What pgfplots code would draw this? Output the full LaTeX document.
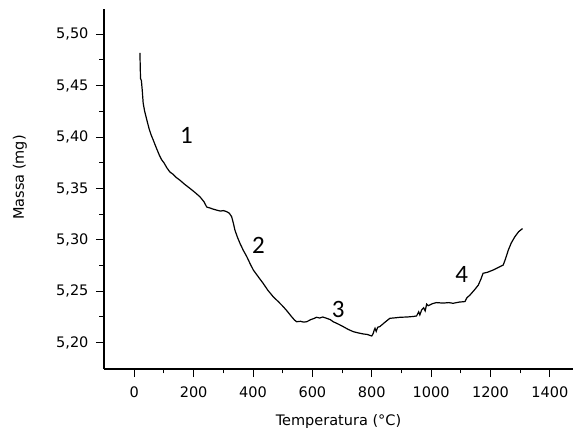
\documentclass[border=0pt]{standalone}
\usepackage{pgfplots}
\pgfplotsset{compat=1.18}
\usepackage{fontspec}
\setmainfont{DejaVu Sans}
\newfontfamily\numfont{Carlito}
\pgfplotstableread{
x y
19 5.482
20 5.470
21 5.457
24 5.455
27 5.445
30 5.433
35 5.425
42 5.417
50 5.408
57 5.402
64 5.397
75 5.389
85 5.382
92 5.378
100 5.375
110 5.370
120 5.366
130 5.364
140 5.361
154 5.358
170 5.354
188 5.350
205 5.346
221 5.342
235 5.337
244 5.332
255 5.331
265 5.330
277 5.329
290 5.328
300 5.3285
311 5.3275
320 5.326
328 5.3226
334 5.316
339 5.3096
347 5.303
356 5.2967
367 5.290
379 5.2837
390 5.277
401 5.2707
418 5.264
434 5.2578
450 5.251
468 5.2447
485 5.240
502 5.235
517 5.230
530 5.2253
540 5.222
547 5.2204
560 5.2208
570 5.2200
581 5.2204
595 5.2225
605 5.2235
614 5.2247
625 5.2240
635 5.2250
648 5.2237
660 5.2225
670 5.2204
688 5.218
704 5.2156
720 5.213
738 5.2107
755 5.2095
771 5.2085
785 5.2080
800 5.2065
805 5.2090
808 5.2120
811 5.2140
815 5.2110
820 5.2150
827 5.2156
845 5.220
861 5.2237
880 5.2242
895 5.2247
920 5.225
940 5.2255
951 5.226
958 5.230
962 5.227
968 5.2318
975 5.234
980 5.231
985 5.2375
990 5.236
996 5.2367
1005 5.238
1018 5.239
1040 5.2385
1060 5.239
1074 5.2383
1095 5.2395
1114 5.240
1120 5.2435
1131 5.2464
1145 5.251
1159 5.256
1168 5.262
1175 5.2675
1190 5.2685
1209 5.2707
1225 5.273
1243 5.2756
1250 5.281
1260 5.290
1270 5.297
1282 5.303
1295 5.308
1308 5.311
}\mass
\begin{document}
\begin{tikzpicture}[x=1pt,y=1pt]
\useasboundingbox (-104pt,-67pt) rectangle (469pt,369pt);
\begin{axis}[
  at={(0,0)}, anchor=south west,
  scale only axis,
  width=469pt, height=360pt,
  xmin=-102, xmax=1478,
  ymin=5.1744, ymax=5.5246,
  axis x line*=bottom, axis y line*=left,
  axis line style={-, line width=1.1pt},
  tick align=outside,
  major tick length=8pt, minor tick length=4.5pt,
  tick style={line width=1pt, black},
  xtick={0,200,...,1400},
  ytick={5.20,5.25,5.30,5.35,5.40,5.45,5.50},
  minor x tick num=1, minor y tick num=1,
  /pgf/number format/assume math mode=true,
  yticklabel style={/pgf/number format/.cd, fixed, fixed zerofill, precision=2, use comma, /tikz/.cd, xshift=-4pt},
  xticklabel style={/pgf/number format/.cd, set thousands separator={}, /tikz/.cd, yshift=-6pt},
  ticklabel style={font=\fontsize{14.5}{16}\selectfont},
  xlabel={Temperatura (°C)},
  ylabel={Massa (mg)},
  label style={font=\fontsize{14.5}{16}\selectfont},
  xlabel style={at={(axis description cs:0.5,0)}, anchor=center, yshift=-53pt},
  ylabel style={at={(axis description cs:0,0.532)}, anchor=center, yshift=84pt},
]
\addplot[black, line width=1.2pt, no marks] table[x=x,y=y]{\mass};
\node[font=\numfont\fontsize{25}{27}\selectfont] at (axis cs:176,5.402) {1};
\node[font=\numfont\fontsize{25}{27}\selectfont] at (axis cs:418,5.295) {2};
\node[font=\numfont\fontsize{25}{27}\selectfont] at (axis cs:687,5.2325) {3};
\node[font=\numfont\fontsize{25}{27}\selectfont] at (axis cs:1103,5.266) {4};
\end{axis}
\end{tikzpicture}
\end{document}
